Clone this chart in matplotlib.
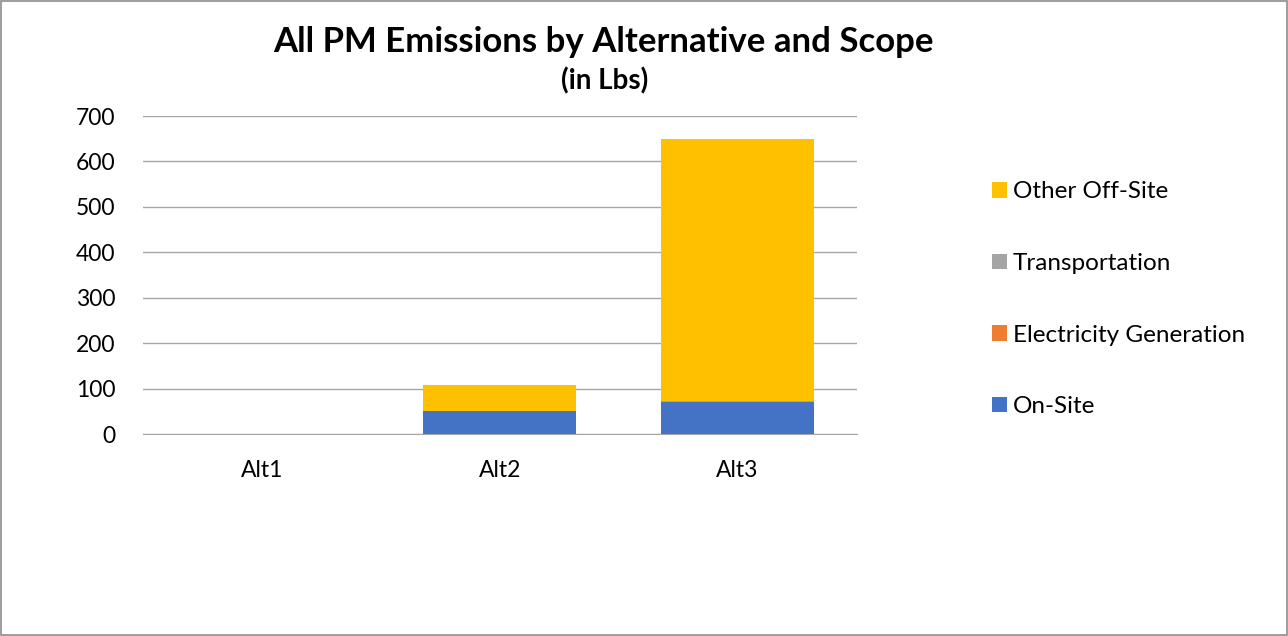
import matplotlib.pyplot as plt
from matplotlib.patches import Rectangle

plt.rcParams['font.family'] = ['Lato', 'DejaVu Sans']

alts = ["Alt1", "Alt2", "Alt3"]
on_site = [0, 50, 70]
electricity = [0, 0, 0.5]
transportation = [0, 1, 3]
other_offsite = [0, 56, 576]

series = [
    ("On-Site", on_site, "#4472c4"),
    ("Electricity Generation", electricity, "#ed7d31"),
    ("Transportation", transportation, "#a5a5a5"),
    ("Other Off-Site", other_offsite, "#ffc000"),
]

fig = plt.figure(figsize=(12.88, 6.36), dpi=100)
ax = fig.add_axes([0.111, 0.3176, 0.554, 0.5])

bottom = [0, 0, 0]
handles = []
for name, vals, col in series:
    b = ax.bar(alts, vals, 0.645, bottom=bottom, color=col, label=name, zorder=3)
    handles.append(b)
    bottom = [x + y for x, y in zip(bottom, vals)]

ax.set_ylim(0, 700)
ax.set_yticks(range(0, 701, 100))
ax.set_xlim(-0.5, 2.5)
ax.grid(axis="y", color="#a6a6a6", linewidth=1, zorder=0)
for s in ["left", "right", "top"]:
    ax.spines[s].set_visible(False)
ax.spines["bottom"].set_color("#a6a6a6")
ax.tick_params(length=0, labelsize=16.5)
ax.tick_params(axis="x", pad=19)
ax.tick_params(axis="y", pad=20)

fig.text(0.4686, 0.934, "All PM Emissions by Alternative and Scope",
         ha="center", va="center", fontsize=25, fontweight="bold")
fig.text(0.4695, 0.873, "(in Lbs)", ha="center", va="center",
         fontsize=20, fontweight="bold")

leg = fig.legend(handles[::-1], [s[0] for s in series][::-1],
                 loc="center left", bbox_to_anchor=(0.770, 0.5295),
                 frameon=False, fontsize=17.5, labelspacing=2.08,
                 borderpad=0, borderaxespad=0,
                 handlelength=0.62, handleheight=0.62, handletextpad=0.25)

fig.patches.append(Rectangle((0.001, 0.001), 0.998, 0.998, transform=fig.transFigure,
                             fill=False, edgecolor="#8c8c8c", linewidth=1.2))

fig.savefig("out.png", dpi=100)
